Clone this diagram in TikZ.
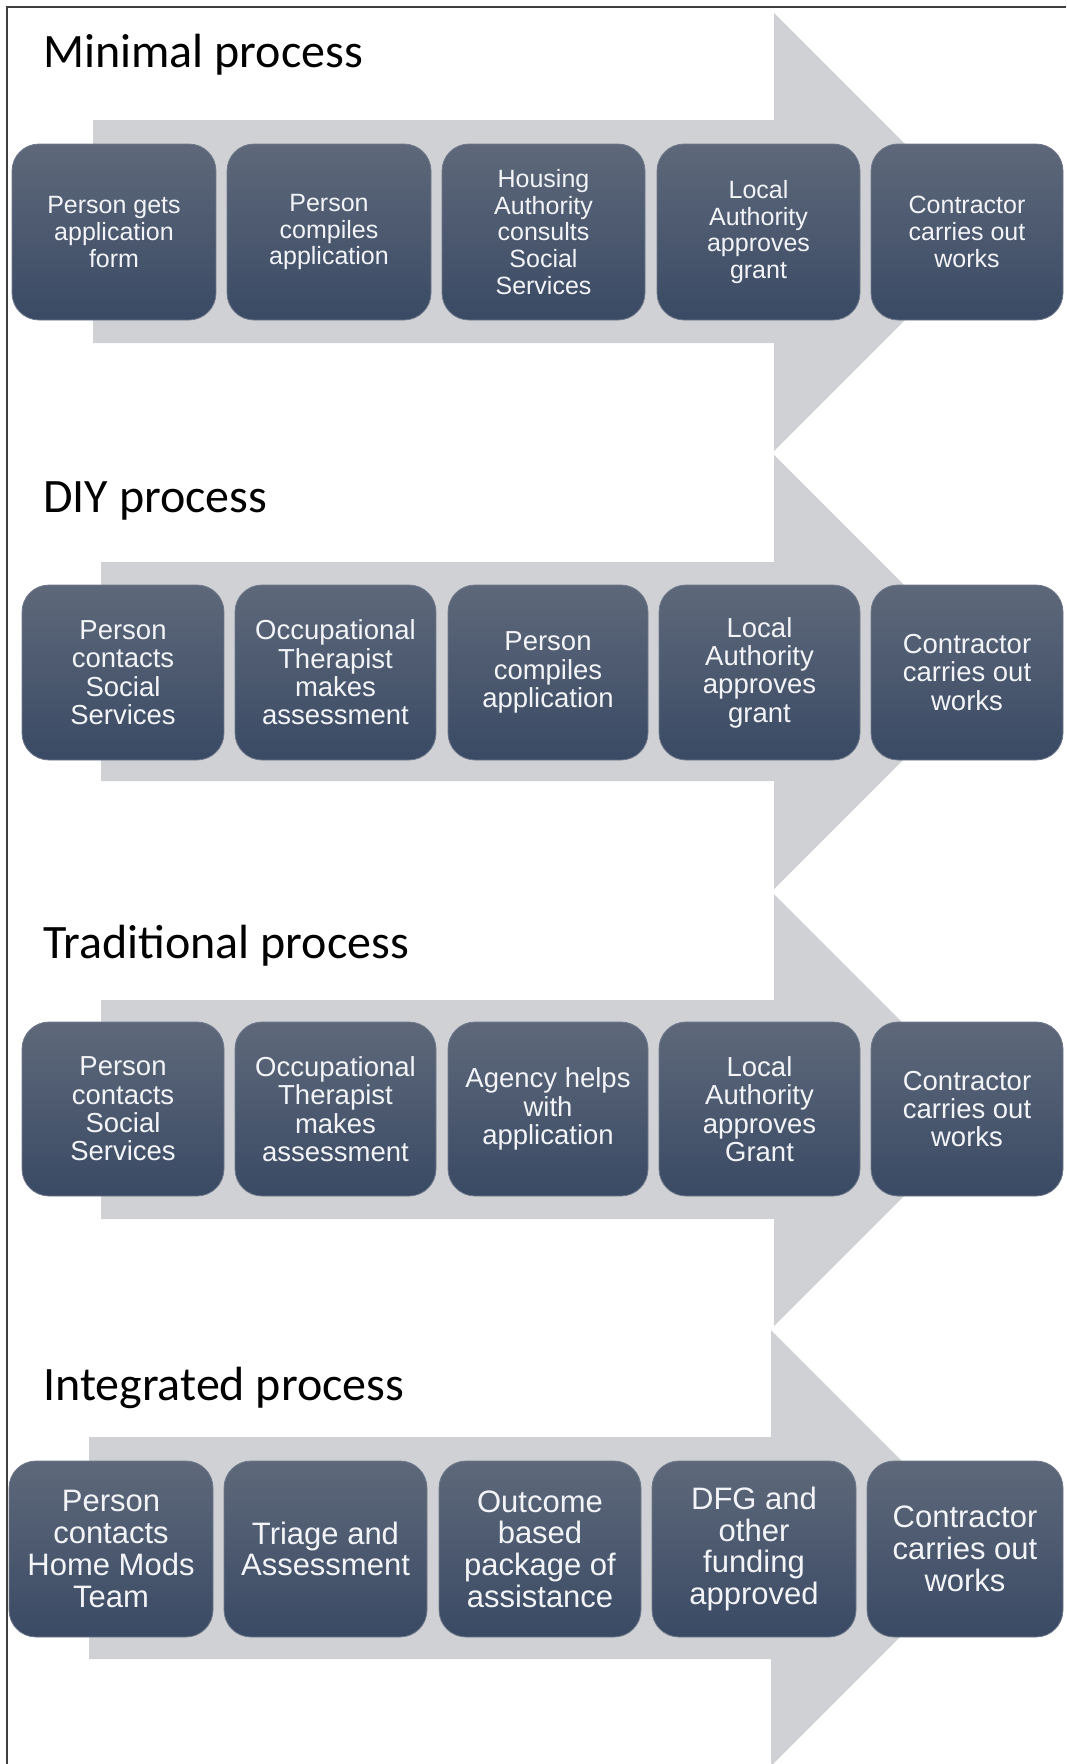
\documentclass[tikz,border=0pt]{standalone}
\usepackage{fontspec}
\setmainfont{Liberation Sans}
\newfontfamily\titlefont{Carlito}
\usepackage{xcolor}
\usepackage{tikz}
\definecolor{arrowgray}{RGB}{207,209,212}
\definecolor{boxtop}{RGB}{94,104,122}
\definecolor{boxbot}{RGB}{58,74,100}
\definecolor{boxedge}{RGB}{112,122,140}
\definecolor{boxtext}{RGB}{242,244,247}
\tikzset{
	procbox/.style={rectangle,rounded corners=27pt,draw=boxedge,line width=0.8pt,
		top color=boxtop,bottom color=boxbot,text=boxtext,align=center,inner sep=0pt},
	mintext/.style={font=\fontsize{25}{26.7}\selectfont},
	midtext/.style={font=\fontsize{27.5}{28.4}\selectfont},
	inttext/.style={font=\fontsize{31}{31.7}\selectfont},
	ptitle/.style={anchor=base west,inner sep=0pt,font=\titlefont\fontsize{48}{50}\selectfont},
	bigarrow/.style={fill=arrowgray,draw=none},
	frame/.style={draw=black!75,line width=1.5pt}
}

\begin{document}
\begin{tikzpicture}[x=1pt,y=-1pt]
	\useasboundingbox (0,0) rectangle (1066,1764);
	\draw[frame] (7,1764) -- (7,7) -- (1066,7);
	% big grey arrows behind each row
	\fill[bigarrow] (93,120) -- (774,120) -- (774,13) -- (993,232) -- (774,451) -- (774,343) -- (93,343) -- cycle;
	\fill[bigarrow] (101,562) -- (774,562) -- (774,455) -- (991,672) -- (774,889) -- (774,781) -- (101,781) -- cycle;
	\fill[bigarrow] (101,1000) -- (774,1000) -- (774,894) -- (990,1110) -- (774,1326) -- (774,1219) -- (101,1219) -- cycle;
	\fill[bigarrow] (89,1437) -- (771,1437) -- (771,1330) -- (989,1548) -- (771,1766) -- (771,1659) -- (89,1659) -- cycle;
	% titles
	\node[ptitle] (tmin) at (43,67) {Minimal process};
	\node[ptitle] (tdiy) at (43,512) {DIY process};
	\node[ptitle] (ttrad) at (43,958) {Traditional process};
	\node[ptitle] (tint) at (43,1400) {Integrated process};
	% minimal
	\node[procbox,mintext,minimum width=204pt,minimum height=176pt] (m1) at (114,232) {Person gets\\application\\form};
	\node[procbox,mintext,minimum width=204pt,minimum height=176pt] (m2) at (329,232) {Person\\compiles\\application};
	\node[procbox,mintext,minimum width=203pt,minimum height=176pt] (m3) at (543.5,232) {Housing\\Authority\\consults\\Social\\Services};
	\node[procbox,mintext,minimum width=203pt,minimum height=176pt] (m4) at (758.5,232) {Local\\Authority\\approves\\grant};
	\node[procbox,mintext,minimum width=192pt,minimum height=176pt] (m5) at (967,232) {Contractor\\carries out\\works};
	% diy
	\node[procbox,midtext,minimum width=202pt,minimum height=175pt] (d1) at (123,672.5) {Person\\contacts\\Social\\Services};
	\node[procbox,midtext,minimum width=201pt,minimum height=175pt] (d2) at (335.5,672.5) {Occupational\\Therapist\\makes\\assessment};
	\node[procbox,midtext,minimum width=200pt,minimum height=175pt] (d3) at (548,672.5) {Person\\compiles\\application};
	\node[procbox,midtext,minimum width=201pt,minimum height=175pt] (d4) at (759.5,672.5) {Local\\Authority\\approves\\grant};
	\node[procbox,midtext,minimum width=192pt,minimum height=175pt] (d5) at (967,672.5) {Contractor\\carries out\\works};
	% traditional
	\node[procbox,midtext,minimum width=202pt,minimum height=174pt] (t1) at (123,1109) {Person\\contacts\\Social\\Services};
	\node[procbox,midtext,minimum width=201pt,minimum height=174pt] (t2) at (335.5,1109) {Occupational\\Therapist\\makes\\assessment};
	\node[procbox,midtext,minimum width=200pt,minimum height=174pt] (t3) at (548,1109) {Agency helps\\with\\application};
	\node[procbox,midtext,minimum width=201pt,minimum height=174pt] (t4) at (759.5,1109) {Local\\Authority\\approves\\Grant};
	\node[procbox,midtext,minimum width=192pt,minimum height=174pt] (t5) at (967,1109) {Contractor\\carries out\\works};
	% integrated
	\node[procbox,inttext,minimum width=204pt,minimum height=176pt] (i1) at (111,1549) {Person\\contacts\\Home Mods\\Team};
	\node[procbox,inttext,minimum width=203pt,minimum height=176pt] (i2) at (325.5,1549) {Triage and\\Assessment};
	\node[procbox,inttext,minimum width=202pt,minimum height=176pt] (i3) at (540,1549) {Outcome\\based\\package of\\assistance};
	\node[procbox,inttext,minimum width=204pt,minimum height=176pt] (i4) at (754,1549) {DFG and\\other\\funding\\approved};
	\node[procbox,inttext,minimum width=196pt,minimum height=176pt] (i5) at (965,1549) {Contractor\\carries out\\works};
\end{tikzpicture}
\end{document}
